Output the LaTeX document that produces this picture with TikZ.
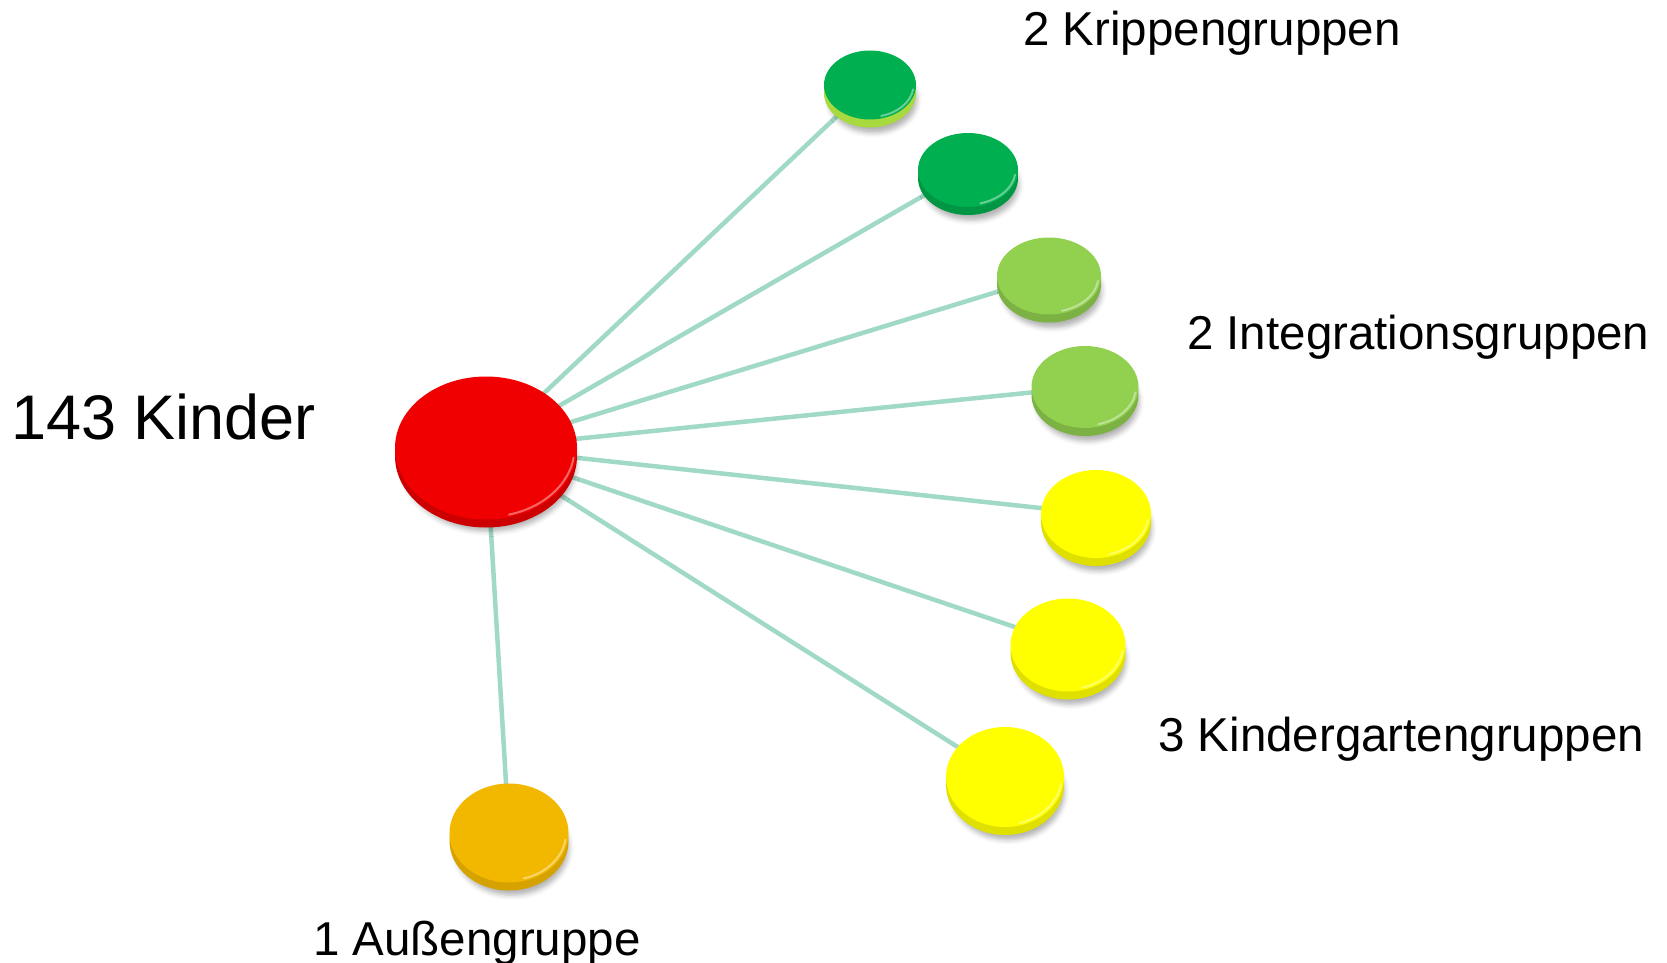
\documentclass[tikz,border=0pt]{standalone}
\usepackage{fontspec}
\setmainfont{Liberation Sans}
\usetikzlibrary{shapes.geometric,backgrounds,shadows.blur}
\definecolor{cred}{RGB}{240,0,0}
\definecolor{cdgreen}{RGB}{0,176,80}
\definecolor{clgreen}{RGB}{146,208,80}
\definecolor{cyel}{RGB}{255,255,0}
\definecolor{corg}{RGB}{242,184,0}
\definecolor{clink}{RGB}{160,217,197}
\tikzset{
  disctop/.style={ellipse, inner sep=0pt, draw=none},
  link/.style={draw=clink, line width=4.5pt},
  biglbl/.style={font=\fontsize{63}{75}\selectfont, inner sep=0pt},
  lbl/.style={font=\fontsize{47.5}{57}\selectfont, inner sep=0pt},
}
% name, cx, cy, width, height, colour, side colour
\newcommand\mydisc[7]{%
  \pgfmathsetmacro\dRx{#4/2}%
  \pgfmathsetmacro\dRy{(#5-8)/2}%
  \fill[#7, blur shadow={shadow xshift=3pt, shadow yshift=-7pt, shadow blur radius=5pt, shadow opacity=30, shadow scale=0.96}]
    (#2,#3+4) ellipse [x radius=\dRx, y radius=\dRy];
  \node[disctop, fill=#6, minimum width=#4pt, minimum height=#5pt-8pt] (#1) at (#2,#3-4) {};
  \draw[white, opacity=.4, line width=2pt, line cap=round]
    (#1.center) ++(8:\dRx-2.5 and \dRy-2.5)
    arc [start angle=8, end angle=75, x radius=\dRx-2.5, y radius=\dRy-2.5];
}
\begin{document}
\begin{tikzpicture}[x=1pt,y=-1pt]
\useasboundingbox (0,0) rectangle (1667,963);

\mydisc{r}{486}{452}{182}{151}{cred}{cred!85!black}
\mydisc{g1}{870}{89}{92}{77}{cdgreen}{clgreen!80!cyel}
\mydisc{g2}{968}{174}{100}{82}{cdgreen}{cdgreen!85!black}
\mydisc{lg1}{1049}{280}{104}{85}{clgreen}{clgreen!85!black}
\mydisc{lg2}{1085}{391}{107}{90}{clgreen}{clgreen!85!black}
\mydisc{y1}{1096}{518}{110}{96}{cyel}{cyel!88!black}
\mydisc{y2}{1068}{649}{115}{101}{cyel}{cyel!88!black}
\mydisc{y3}{1005}{781}{118}{108}{cyel}{cyel!88!black}
\mydisc{o}{509}{837}{119}{107}{corg}{corg!88!black}

\begin{scope}[on background layer]
  \foreach \t in {g1,g2,lg1,lg2,y1,y2,y3,o}
    \draw[link] (r.center) -- (\t.center);
\end{scope}

\node[biglbl, anchor=base west] (kinder) at (11,439) {143 Kinder};
\node[lbl, anchor=base west] (krippe) at (1023,46) {2 Krippengruppen};
\node[lbl, anchor=base west] (integ) at (1187,349) {2 Integrationsgruppen};
\node[lbl, anchor=base west] (kiga) at (1158,751) {3 Kindergartengruppen};
\node[lbl, anchor=base west] (aussen) at (313,955) {1 Außengruppe};
\end{tikzpicture}
\end{document}
